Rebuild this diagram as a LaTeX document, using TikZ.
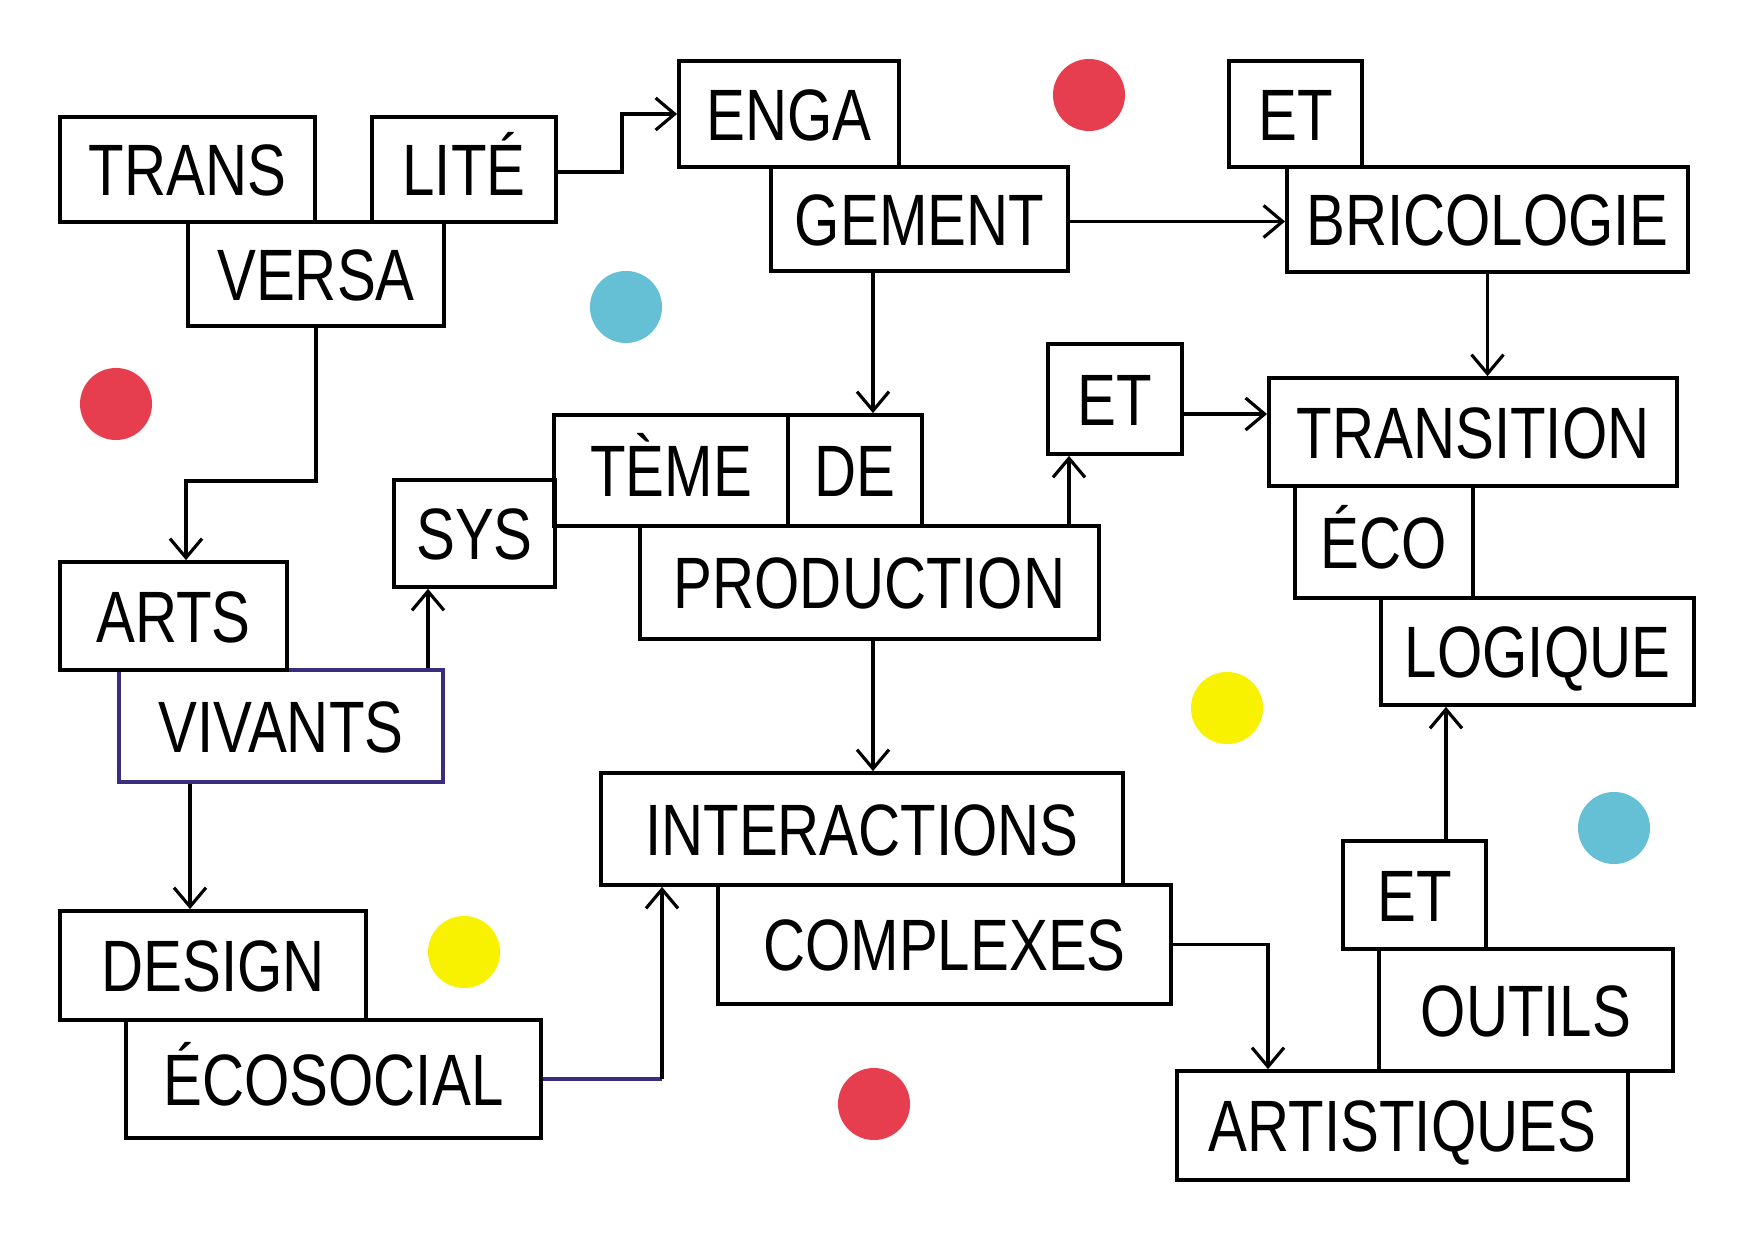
\documentclass[tikz,border=0pt]{standalone}
\usepackage{fontspec}
\setmainfont[FakeStretch=0.8]{Liberation Sans}
\usetikzlibrary{arrows.meta}
\definecolor{cred}{HTML}{E63E4F}
\definecolor{cblue}{HTML}{66C0D5}
\definecolor{cyellow}{HTML}{F8F200}
\definecolor{cpurple}{HTML}{3B2C7E}
\begin{document}
\begin{tikzpicture}[x=0.01cm,y=-0.01cm,
  wbox/.style={draw, line width=1.05pt, inner sep=0pt, text height=0.52cm, text depth=0pt,
    anchor=center, font=\fontsize{20.7}{24}\selectfont},
  conn/.style={line width=0.9pt, -{Straight Barb[length=0.19cm,width=0.32cm]}},
  plain/.style={line width=0.9pt},
  dot/.style={circle, minimum size=0.72cm, inner sep=0pt, draw=none}]
\fill[white] (0,0) rectangle (1748,1240);
\useasboundingbox (0,0) rectangle (1748,1240);

% dots
\node[dot, fill=cred] (d1) at (116,404) {};
\node[dot, fill=cblue] (d2) at (626,307) {};
\node[dot, fill=cred] (d3) at (1089,95) {};
\node[dot, fill=cyellow] (d4) at (464,952) {};
\node[dot, fill=cred] (d5) at (874,1104) {};
\node[dot, fill=cyellow] (d6) at (1227,708) {};
\node[dot, fill=cblue] (d7) at (1614,828) {};

% boxes
\node[wbox, minimum width=2.55cm, minimum height=1.05cm] (trans) at (187.5,169.5) {TRANS};
\node[wbox, minimum width=1.84cm, minimum height=1.05cm] (lite) at (464,169.5) {LITÉ};
\node[wbox, minimum width=2.56cm, minimum height=1.04cm] (versa) at (316,274) {VERSA};
\node[wbox, minimum width=2.20cm, minimum height=1.06cm] (enga) at (789,114) {ENGA};
\node[wbox, minimum width=2.97cm, minimum height=1.04cm] (gement) at (919.5,219) {GEMENT};
\node[wbox, minimum width=1.33cm, minimum height=1.06cm] (et1) at (1295.5,114) {ET};
\node[wbox, minimum width=4.01cm, minimum height=1.05cm] (brico) at (1487.5,219.5) {BRICOLOGIE};
\node[wbox, minimum width=2.34cm, minimum height=1.11cm] (teme) at (671,470.5) {TÈME};
\node[wbox, minimum width=1.34cm, minimum height=1.11cm] (de) at (855,470.5) {DE};
\node[wbox, minimum width=1.61cm, minimum height=1.07cm] (sys) at (474.5,533.5) {SYS};
\node[wbox, minimum width=4.59cm, minimum height=1.13cm] (prod) at (869.5,582.5) {PRODUCTION};
\node[wbox, minimum width=1.34cm, minimum height=1.10cm] (et2) at (1115,399) {ET};
\node[wbox, minimum width=4.08cm, minimum height=1.08cm] (transi) at (1473,432) {TRANSITION};
\node[wbox, minimum width=1.78cm, minimum height=1.12cm] (eco) at (1384,542) {ÉCO};
\node[wbox, minimum width=3.13cm, minimum height=1.07cm] (logique) at (1537.5,651.5) {LOGIQUE};
\node[wbox, draw=cpurple, minimum width=3.24cm, minimum height=1.12cm] (vivants) at (281,726) {VIVANTS};
\node[wbox, minimum width=2.27cm, minimum height=1.08cm] (arts) at (173.5,616) {ARTS};
\node[wbox, minimum width=3.06cm, minimum height=1.09cm] (design) at (213,965.5) {DESIGN};
\node[wbox, minimum width=4.15cm, minimum height=1.18cm] (ecosocial) at (333.5,1079) {ÉCOSOCIAL};
\node[wbox, minimum width=5.22cm, minimum height=1.12cm] (inter) at (862,829) {INTERACTIONS};
\node[wbox, minimum width=4.53cm, minimum height=1.19cm] (complexes) at (944.5,944.5) {COMPLEXES};
\node[wbox, minimum width=1.43cm, minimum height=1.08cm] (et3) at (1414.5,895) {ET};
\node[wbox, minimum width=2.94cm, minimum height=1.22cm] (outils) at (1526,1010) {OUTILS};
\node[wbox, minimum width=4.51cm, minimum height=1.09cm] (artist) at (1402.5,1125.5) {ARTISTIQUES};

% connector helper coordinates
\coordinate (kli) at (622,172);
\coordinate (kgb) at (0,221.5);
\coordinate (kg) at (873,0);
\coordinate (kv) at (186,481);
\coordinate (ks) at (428,0);
\coordinate (kd) at (190,0);
\coordinate (ki) at (662,1079);
\coordinate (ke) at (1069,0);
\coordinate (kt) at (0,414);
\coordinate (kl) at (1446,0);
\coordinate (ka) at (1268,0);

% connectors
\draw[conn] (kli -| lite.east) -- (kli) |- (enga.west);
\draw[conn] (kgb -| gement.east) -- (kgb -| brico.west);
\draw[conn] (kg |- gement.south) -- (kg |- de.north);
\draw[conn] (versa.south) |- (kv) -- (kv |- arts.north);
\draw[conn] (ks |- vivants.north) -- (ks |- sys.south);
\draw[conn] (kd |- vivants.south) -- (kd |- design.north);
\draw[plain, cpurple] (ecosocial.east) -- (ki);
\draw[conn] (ki) -- (ki |- inter.south);
\draw[conn] (kg |- prod.south) -- (kg |- inter.north);
\draw[conn] (ke |- prod.north) -- (ke |- et2.south);
\draw[conn] (kt -| et2.east) -- (kt -| transi.west);
\draw[conn] (brico.south) -- (brico.south |- transi.north);
\draw[conn] (kl |- et3.north) -- (kl |- logique.south);
\draw[conn] (complexes.east) -| (ka |- artist.north);
\end{tikzpicture}
\end{document}
